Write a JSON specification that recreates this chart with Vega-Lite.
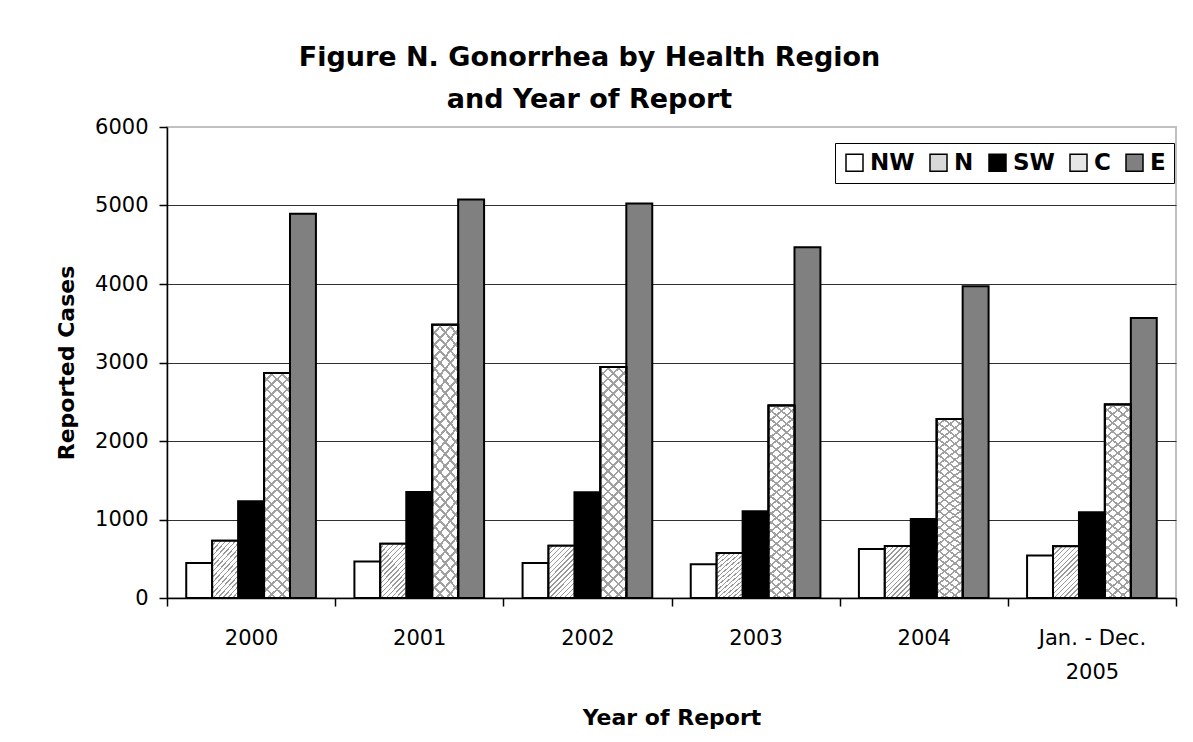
{
  "$schema": "https://vega.github.io/schema/vega-lite/v6.json",
  "autosize": "none",
  "width": 1009,
  "height": 471,
  "padding": {"left": 167, "top": 127, "right": 17, "bottom": 144},
  "background": "white",
  "title": {
    "text": ["Figure N. Gonorrhea by Health Region", "and Year of Report"],
    "anchor": "middle",
    "frame": "group",
    "dx": -82,
    "font": "DejaVu Sans",
    "fontSize": 27,
    "fontWeight": "bold",
    "color": "black",
    "lineHeight": 42,
    "offset": 2
  },
  "data": {
    "values": [
      {"Year": "2000", "Region": "NW", "Cases": 446},
      {"Year": "2000", "Region": "N", "Cases": 730},
      {"Year": "2000", "Region": "SW", "Cases": 1231},
      {"Year": "2000", "Region": "C", "Cases": 2866},
      {"Year": "2000", "Region": "E", "Cases": 4896},
      {"Year": "2001", "Region": "NW", "Cases": 466},
      {"Year": "2001", "Region": "N", "Cases": 692},
      {"Year": "2001", "Region": "SW", "Cases": 1350},
      {"Year": "2001", "Region": "C", "Cases": 3480},
      {"Year": "2001", "Region": "E", "Cases": 5075},
      {"Year": "2002", "Region": "NW", "Cases": 446},
      {"Year": "2002", "Region": "N", "Cases": 667},
      {"Year": "2002", "Region": "SW", "Cases": 1347},
      {"Year": "2002", "Region": "C", "Cases": 2944},
      {"Year": "2002", "Region": "E", "Cases": 5025},
      {"Year": "2003", "Region": "NW", "Cases": 429},
      {"Year": "2003", "Region": "N", "Cases": 573},
      {"Year": "2003", "Region": "SW", "Cases": 1104},
      {"Year": "2003", "Region": "C", "Cases": 2451},
      {"Year": "2003", "Region": "E", "Cases": 4469},
      {"Year": "2004", "Region": "NW", "Cases": 624},
      {"Year": "2004", "Region": "N", "Cases": 663},
      {"Year": "2004", "Region": "SW", "Cases": 1007},
      {"Year": "2004", "Region": "C", "Cases": 2281},
      {"Year": "2004", "Region": "E", "Cases": 3972},
      {"Year": "Jan. - Dec. 2005", "Region": "NW", "Cases": 540},
      {"Year": "Jan. - Dec. 2005", "Region": "N", "Cases": 658},
      {"Year": "Jan. - Dec. 2005", "Region": "SW", "Cases": 1092},
      {"Year": "Jan. - Dec. 2005", "Region": "C", "Cases": 2464},
      {"Year": "Jan. - Dec. 2005", "Region": "E", "Cases": 3568}
    ]
  },
  "encoding": {
    "x": {
      "field": "Year",
      "type": "nominal",
      "sort": ["2000", "2001", "2002", "2003", "2004", "Jan. - Dec. 2005"],
      "scale": {"paddingInner": 0, "paddingOuter": 0},
      "axis": {
        "title": "Year of Report",
        "tickBand": "extent",
        "labelAngle": 0,
        "labelExpr": "datum.value == 'Jan. - Dec. 2005' ? ['Jan. - Dec.', '2005'] : datum.value",
        "labelFont": "DejaVu Sans",
        "labelFontSize": 21,
        "labelColor": "black",
        "labelPadding": 21,
        "labelLineHeight": 34,
        "domainColor": "black",
        "domainWidth": 1.5,
        "tickColor": "black",
        "tickWidth": 1.5,
        "tickSize": 8,
        "titleFont": "DejaVu Sans",
        "titleFontSize": 22,
        "titleFontWeight": "bold",
        "titleColor": "black",
        "titlePadding": 25
      }
    },
    "xOffset": {
      "field": "Region",
      "type": "nominal",
      "sort": ["NW", "N", "SW", "C", "E"],
      "scale": {"domain": ["NW", "N", "SW", "C", "E"], "paddingInner": 0, "paddingOuter": 0.742}
    },
    "y": {
      "field": "Cases",
      "type": "quantitative",
      "scale": {"domain": [0, 6000], "nice": false},
      "axis": {
        "title": "Reported Cases",
        "values": [0, 1000, 2000, 3000, 4000, 5000, 6000],
        "format": "d",
        "grid": true,
        "gridColor": {"condition": {"test": "datum.value == 6000", "value": "#c0c0c0"}, "value": "#303030"},
        "gridWidth": 1.2,
        "labelFont": "DejaVu Sans",
        "labelFontSize": 21,
        "labelColor": "black",
        "labelPadding": 11,
        "domainColor": "black",
        "domainWidth": 1.5,
        "tickColor": "black",
        "tickWidth": 1.5,
        "tickSize": 8,
        "titleFont": "DejaVu Sans",
        "titleFontSize": 22,
        "titleFontWeight": "bold",
        "titleColor": "black",
        "titlePadding": 16
      }
    }
  },
  "layer": [
    {
      "mark": {"type": "bar", "stroke": "black", "strokeWidth": 2, "opacity": 1},
      "encoding": {
        "color": {
          "field": "Region",
          "type": "nominal",
          "sort": ["NW", "N", "SW", "C", "E"],
          "scale": {"domain": ["NW", "N", "SW", "C", "E"], "range": ["white", "#d9d9d9", "black", "#e6e6e6", "#808080"]},
          "legend": {
            "title": null,
            "orient": "none",
            "legendX": 668,
            "legendY": 16,
            "direction": "horizontal",
            "strokeColor": "black",
            "fillColor": "white",
            "padding": 8,
            "symbolType": "square",
            "symbolSize": 289,
            "symbolStrokeColor": "black",
            "symbolStrokeWidth": 1.5,
            "symbolOpacity": 1,
            "labelFont": "DejaVu Sans",
            "labelFontWeight": "bold",
            "labelFontSize": 23,
            "labelColor": "black",
            "labelOffset": 4,
            "columnPadding": 12
          }
        }
      }
    },
    {
      "transform": [{"filter": "datum.Region == 'N'"}],
      "mark": {
        "type": "bar",
        "stroke": "black",
        "strokeWidth": 2,
        "fill": {
          "gradient": "linear", "x1": 0, "y1": 0, "x2": 0.6, "y2": 1.2,
          "stops": [
            {"offset": 0, "color": "white"}, {"offset": 0.044, "color": "white"}, {"offset": 0.044, "color": "#9a9a9a"}, {"offset": 0.0625, "color": "#9a9a9a"},
            {"offset": 0.0625, "color": "white"}, {"offset": 0.1065, "color": "white"}, {"offset": 0.1065, "color": "#9a9a9a"}, {"offset": 0.125, "color": "#9a9a9a"},
            {"offset": 0.125, "color": "white"}, {"offset": 0.169, "color": "white"}, {"offset": 0.169, "color": "#9a9a9a"}, {"offset": 0.1875, "color": "#9a9a9a"},
            {"offset": 0.1875, "color": "white"}, {"offset": 0.2315, "color": "white"}, {"offset": 0.2315, "color": "#9a9a9a"}, {"offset": 0.25, "color": "#9a9a9a"},
            {"offset": 0.25, "color": "white"}, {"offset": 0.294, "color": "white"}, {"offset": 0.294, "color": "#9a9a9a"}, {"offset": 0.3125, "color": "#9a9a9a"},
            {"offset": 0.3125, "color": "white"}, {"offset": 0.3565, "color": "white"}, {"offset": 0.3565, "color": "#9a9a9a"}, {"offset": 0.375, "color": "#9a9a9a"},
            {"offset": 0.375, "color": "white"}, {"offset": 0.419, "color": "white"}, {"offset": 0.419, "color": "#9a9a9a"}, {"offset": 0.4375, "color": "#9a9a9a"},
            {"offset": 0.4375, "color": "white"}, {"offset": 0.4815, "color": "white"}, {"offset": 0.4815, "color": "#9a9a9a"}, {"offset": 0.5, "color": "#9a9a9a"},
            {"offset": 0.5, "color": "white"}, {"offset": 0.544, "color": "white"}, {"offset": 0.544, "color": "#9a9a9a"}, {"offset": 0.5625, "color": "#9a9a9a"},
            {"offset": 0.5625, "color": "white"}, {"offset": 0.6065, "color": "white"}, {"offset": 0.6065, "color": "#9a9a9a"}, {"offset": 0.625, "color": "#9a9a9a"},
            {"offset": 0.625, "color": "white"}, {"offset": 0.669, "color": "white"}, {"offset": 0.669, "color": "#9a9a9a"}, {"offset": 0.6875, "color": "#9a9a9a"},
            {"offset": 0.6875, "color": "white"}, {"offset": 0.7315, "color": "white"}, {"offset": 0.7315, "color": "#9a9a9a"}, {"offset": 0.75, "color": "#9a9a9a"},
            {"offset": 0.75, "color": "white"}, {"offset": 0.794, "color": "white"}, {"offset": 0.794, "color": "#9a9a9a"}, {"offset": 0.8125, "color": "#9a9a9a"},
            {"offset": 0.8125, "color": "white"}, {"offset": 0.8565, "color": "white"}, {"offset": 0.8565, "color": "#9a9a9a"}, {"offset": 0.875, "color": "#9a9a9a"},
            {"offset": 0.875, "color": "white"}, {"offset": 0.919, "color": "white"}, {"offset": 0.919, "color": "#9a9a9a"}, {"offset": 0.9375, "color": "#9a9a9a"},
            {"offset": 0.9375, "color": "white"}, {"offset": 0.9815, "color": "white"}, {"offset": 0.9815, "color": "#9a9a9a"}, {"offset": 1, "color": "#9a9a9a"}
          ]
        }
      }
    },
    {
      "transform": [{"filter": "datum.Region == 'C'"}],
      "mark": {
        "type": "bar",
        "stroke": "black",
        "strokeWidth": 2,
        "fill": {
          "gradient": "linear", "x1": 0, "y1": 0, "x2": 0.122, "y2": 1.098,
          "stops": [
            {"offset": 0, "color": "white"}, {"offset": 0.03, "color": "white"}, {"offset": 0.03, "color": "#a0a0a0"}, {"offset": 0.04, "color": "#a0a0a0"},
            {"offset": 0.04, "color": "white"}, {"offset": 0.07, "color": "white"}, {"offset": 0.07, "color": "#a0a0a0"}, {"offset": 0.08, "color": "#a0a0a0"},
            {"offset": 0.08, "color": "white"}, {"offset": 0.11, "color": "white"}, {"offset": 0.11, "color": "#a0a0a0"}, {"offset": 0.12, "color": "#a0a0a0"},
            {"offset": 0.12, "color": "white"}, {"offset": 0.15, "color": "white"}, {"offset": 0.15, "color": "#a0a0a0"}, {"offset": 0.16, "color": "#a0a0a0"},
            {"offset": 0.16, "color": "white"}, {"offset": 0.19, "color": "white"}, {"offset": 0.19, "color": "#a0a0a0"}, {"offset": 0.2, "color": "#a0a0a0"},
            {"offset": 0.2, "color": "white"}, {"offset": 0.23, "color": "white"}, {"offset": 0.23, "color": "#a0a0a0"}, {"offset": 0.24, "color": "#a0a0a0"},
            {"offset": 0.24, "color": "white"}, {"offset": 0.27, "color": "white"}, {"offset": 0.27, "color": "#a0a0a0"}, {"offset": 0.28, "color": "#a0a0a0"},
            {"offset": 0.28, "color": "white"}, {"offset": 0.31, "color": "white"}, {"offset": 0.31, "color": "#a0a0a0"}, {"offset": 0.32, "color": "#a0a0a0"},
            {"offset": 0.32, "color": "white"}, {"offset": 0.35, "color": "white"}, {"offset": 0.35, "color": "#a0a0a0"}, {"offset": 0.36, "color": "#a0a0a0"},
            {"offset": 0.36, "color": "white"}, {"offset": 0.39, "color": "white"}, {"offset": 0.39, "color": "#a0a0a0"}, {"offset": 0.4, "color": "#a0a0a0"},
            {"offset": 0.4, "color": "white"}, {"offset": 0.43, "color": "white"}, {"offset": 0.43, "color": "#a0a0a0"}, {"offset": 0.44, "color": "#a0a0a0"},
            {"offset": 0.44, "color": "white"}, {"offset": 0.47, "color": "white"}, {"offset": 0.47, "color": "#a0a0a0"}, {"offset": 0.48, "color": "#a0a0a0"},
            {"offset": 0.48, "color": "white"}, {"offset": 0.51, "color": "white"}, {"offset": 0.51, "color": "#a0a0a0"}, {"offset": 0.52, "color": "#a0a0a0"},
            {"offset": 0.52, "color": "white"}, {"offset": 0.55, "color": "white"}, {"offset": 0.55, "color": "#a0a0a0"}, {"offset": 0.56, "color": "#a0a0a0"},
            {"offset": 0.56, "color": "white"}, {"offset": 0.59, "color": "white"}, {"offset": 0.59, "color": "#a0a0a0"}, {"offset": 0.6, "color": "#a0a0a0"},
            {"offset": 0.6, "color": "white"}, {"offset": 0.63, "color": "white"}, {"offset": 0.63, "color": "#a0a0a0"}, {"offset": 0.64, "color": "#a0a0a0"},
            {"offset": 0.64, "color": "white"}, {"offset": 0.67, "color": "white"}, {"offset": 0.67, "color": "#a0a0a0"}, {"offset": 0.68, "color": "#a0a0a0"},
            {"offset": 0.68, "color": "white"}, {"offset": 0.71, "color": "white"}, {"offset": 0.71, "color": "#a0a0a0"}, {"offset": 0.72, "color": "#a0a0a0"},
            {"offset": 0.72, "color": "white"}, {"offset": 0.75, "color": "white"}, {"offset": 0.75, "color": "#a0a0a0"}, {"offset": 0.76, "color": "#a0a0a0"},
            {"offset": 0.76, "color": "white"}, {"offset": 0.79, "color": "white"}, {"offset": 0.79, "color": "#a0a0a0"}, {"offset": 0.8, "color": "#a0a0a0"},
            {"offset": 0.8, "color": "white"}, {"offset": 0.83, "color": "white"}, {"offset": 0.83, "color": "#a0a0a0"}, {"offset": 0.84, "color": "#a0a0a0"},
            {"offset": 0.84, "color": "white"}, {"offset": 0.87, "color": "white"}, {"offset": 0.87, "color": "#a0a0a0"}, {"offset": 0.88, "color": "#a0a0a0"},
            {"offset": 0.88, "color": "white"}, {"offset": 0.91, "color": "white"}, {"offset": 0.91, "color": "#a0a0a0"}, {"offset": 0.92, "color": "#a0a0a0"},
            {"offset": 0.92, "color": "white"}, {"offset": 0.95, "color": "white"}, {"offset": 0.95, "color": "#a0a0a0"}, {"offset": 0.96, "color": "#a0a0a0"},
            {"offset": 0.96, "color": "white"}, {"offset": 0.99, "color": "white"}, {"offset": 0.99, "color": "#a0a0a0"}, {"offset": 1, "color": "#a0a0a0"}
          ]
        }
      }
    },
    {
      "transform": [{"filter": "datum.Region == 'C'"}],
      "mark": {
        "type": "bar",
        "stroke": "black",
        "strokeWidth": 2,
        "fill": {
          "gradient": "linear", "x1": 1, "y1": 0, "x2": 0.878, "y2": 1.098,
          "stops": [
            {"offset": 0, "color": "rgba(0,0,0,0)"}, {"offset": 0.03, "color": "rgba(0,0,0,0)"}, {"offset": 0.03, "color": "#a0a0a0"}, {"offset": 0.04, "color": "#a0a0a0"},
            {"offset": 0.04, "color": "rgba(0,0,0,0)"}, {"offset": 0.07, "color": "rgba(0,0,0,0)"}, {"offset": 0.07, "color": "#a0a0a0"}, {"offset": 0.08, "color": "#a0a0a0"},
            {"offset": 0.08, "color": "rgba(0,0,0,0)"}, {"offset": 0.11, "color": "rgba(0,0,0,0)"}, {"offset": 0.11, "color": "#a0a0a0"}, {"offset": 0.12, "color": "#a0a0a0"},
            {"offset": 0.12, "color": "rgba(0,0,0,0)"}, {"offset": 0.15, "color": "rgba(0,0,0,0)"}, {"offset": 0.15, "color": "#a0a0a0"}, {"offset": 0.16, "color": "#a0a0a0"},
            {"offset": 0.16, "color": "rgba(0,0,0,0)"}, {"offset": 0.19, "color": "rgba(0,0,0,0)"}, {"offset": 0.19, "color": "#a0a0a0"}, {"offset": 0.2, "color": "#a0a0a0"},
            {"offset": 0.2, "color": "rgba(0,0,0,0)"}, {"offset": 0.23, "color": "rgba(0,0,0,0)"}, {"offset": 0.23, "color": "#a0a0a0"}, {"offset": 0.24, "color": "#a0a0a0"},
            {"offset": 0.24, "color": "rgba(0,0,0,0)"}, {"offset": 0.27, "color": "rgba(0,0,0,0)"}, {"offset": 0.27, "color": "#a0a0a0"}, {"offset": 0.28, "color": "#a0a0a0"},
            {"offset": 0.28, "color": "rgba(0,0,0,0)"}, {"offset": 0.31, "color": "rgba(0,0,0,0)"}, {"offset": 0.31, "color": "#a0a0a0"}, {"offset": 0.32, "color": "#a0a0a0"},
            {"offset": 0.32, "color": "rgba(0,0,0,0)"}, {"offset": 0.35, "color": "rgba(0,0,0,0)"}, {"offset": 0.35, "color": "#a0a0a0"}, {"offset": 0.36, "color": "#a0a0a0"},
            {"offset": 0.36, "color": "rgba(0,0,0,0)"}, {"offset": 0.39, "color": "rgba(0,0,0,0)"}, {"offset": 0.39, "color": "#a0a0a0"}, {"offset": 0.4, "color": "#a0a0a0"},
            {"offset": 0.4, "color": "rgba(0,0,0,0)"}, {"offset": 0.43, "color": "rgba(0,0,0,0)"}, {"offset": 0.43, "color": "#a0a0a0"}, {"offset": 0.44, "color": "#a0a0a0"},
            {"offset": 0.44, "color": "rgba(0,0,0,0)"}, {"offset": 0.47, "color": "rgba(0,0,0,0)"}, {"offset": 0.47, "color": "#a0a0a0"}, {"offset": 0.48, "color": "#a0a0a0"},
            {"offset": 0.48, "color": "rgba(0,0,0,0)"}, {"offset": 0.51, "color": "rgba(0,0,0,0)"}, {"offset": 0.51, "color": "#a0a0a0"}, {"offset": 0.52, "color": "#a0a0a0"},
            {"offset": 0.52, "color": "rgba(0,0,0,0)"}, {"offset": 0.55, "color": "rgba(0,0,0,0)"}, {"offset": 0.55, "color": "#a0a0a0"}, {"offset": 0.56, "color": "#a0a0a0"},
            {"offset": 0.56, "color": "rgba(0,0,0,0)"}, {"offset": 0.59, "color": "rgba(0,0,0,0)"}, {"offset": 0.59, "color": "#a0a0a0"}, {"offset": 0.6, "color": "#a0a0a0"},
            {"offset": 0.6, "color": "rgba(0,0,0,0)"}, {"offset": 0.63, "color": "rgba(0,0,0,0)"}, {"offset": 0.63, "color": "#a0a0a0"}, {"offset": 0.64, "color": "#a0a0a0"},
            {"offset": 0.64, "color": "rgba(0,0,0,0)"}, {"offset": 0.67, "color": "rgba(0,0,0,0)"}, {"offset": 0.67, "color": "#a0a0a0"}, {"offset": 0.68, "color": "#a0a0a0"},
            {"offset": 0.68, "color": "rgba(0,0,0,0)"}, {"offset": 0.71, "color": "rgba(0,0,0,0)"}, {"offset": 0.71, "color": "#a0a0a0"}, {"offset": 0.72, "color": "#a0a0a0"},
            {"offset": 0.72, "color": "rgba(0,0,0,0)"}, {"offset": 0.75, "color": "rgba(0,0,0,0)"}, {"offset": 0.75, "color": "#a0a0a0"}, {"offset": 0.76, "color": "#a0a0a0"},
            {"offset": 0.76, "color": "rgba(0,0,0,0)"}, {"offset": 0.79, "color": "rgba(0,0,0,0)"}, {"offset": 0.79, "color": "#a0a0a0"}, {"offset": 0.8, "color": "#a0a0a0"},
            {"offset": 0.8, "color": "rgba(0,0,0,0)"}, {"offset": 0.83, "color": "rgba(0,0,0,0)"}, {"offset": 0.83, "color": "#a0a0a0"}, {"offset": 0.84, "color": "#a0a0a0"},
            {"offset": 0.84, "color": "rgba(0,0,0,0)"}, {"offset": 0.87, "color": "rgba(0,0,0,0)"}, {"offset": 0.87, "color": "#a0a0a0"}, {"offset": 0.88, "color": "#a0a0a0"},
            {"offset": 0.88, "color": "rgba(0,0,0,0)"}, {"offset": 0.91, "color": "rgba(0,0,0,0)"}, {"offset": 0.91, "color": "#a0a0a0"}, {"offset": 0.92, "color": "#a0a0a0"},
            {"offset": 0.92, "color": "rgba(0,0,0,0)"}, {"offset": 0.95, "color": "rgba(0,0,0,0)"}, {"offset": 0.95, "color": "#a0a0a0"}, {"offset": 0.96, "color": "#a0a0a0"},
            {"offset": 0.96, "color": "rgba(0,0,0,0)"}, {"offset": 0.99, "color": "rgba(0,0,0,0)"}, {"offset": 0.99, "color": "#a0a0a0"}, {"offset": 1, "color": "#a0a0a0"}
          ]
        }
      }
    }
  ],
  "config": {
    "view": {"stroke": "#c0c0c0", "strokeWidth": 2}
  }
}
